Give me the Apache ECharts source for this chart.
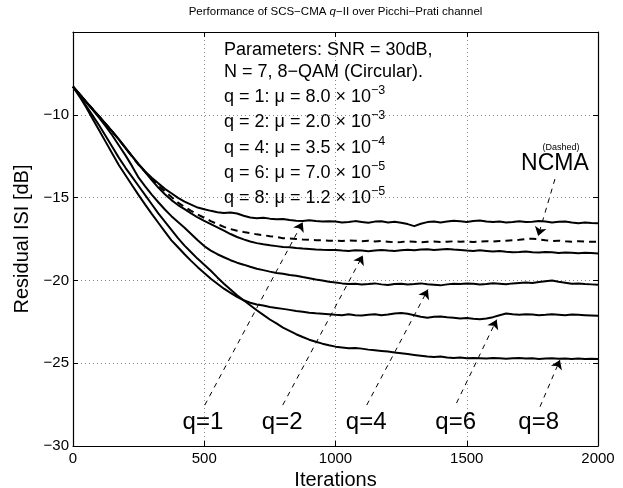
<!DOCTYPE html>
<html><head><meta charset="utf-8">
<script src="https://cdn.jsdelivr.net/npm/echarts@6/dist/echarts.min.js"></script>
<style>html,body{margin:0;padding:0;background:#fff}#c{width:623px;height:488px}</style>
</head><body><div id="c"></div>
<script>
const iterations = [0,25,50,75,100,125,150,175,200,225,250,275,300,325,350,375,400,425,450,475,500,525,550,575,600,625,650,675,700,725,750,775,800,825,850,875,900,925,950,975,1000,1025,1050,1075,1100,1125,1150,1175,1200,1225,1250,1275,1300,1325,1350,1375,1400,1425,1450,1475,1500,1525,1550,1575,1600,1625,1650,1675,1700,1725,1750,1775,1800,1825,1850,1875,1900,1925,1950,1975,2000];
const q1 = [-8.3,-8.74,-9.2,-9.66,-10.1,-10.56,-11.0,-11.48,-11.98,-12.5,-12.98,
-13.42,-13.8,-14.14,-14.47,-14.74,-15.02,-15.24,-15.42,-15.6,-15.7,-15.8,-15.88,-15.93,-15.9,-15.96,-16.1,-16.2,-16.24,-16.21,-16.27,-16.31,-16.29,-16.35,-16.4,-16.42,-16.37,-16.42,-16.45,-16.43,
-16.45,-16.5,-16.48,-16.42,-16.47,-16.52,-16.45,-16.43,-16.5,-16.46,-16.52,-16.6,-16.72,-16.58,-16.48,-16.44,-16.5,-16.45,-16.4,-16.43,-16.47,-16.42,-16.38,-16.44,-16.48,-16.45,-16.5,-16.47,-16.43,-16.48,-16.46,-16.42,-16.45,-16.5,-16.46,-16.44,-16.5,-16.55,-16.5,-16.53,-16.55];
const ncma = [-8.3,-8.76,-9.21,-9.65,-10.12,-10.55,-11.02,-11.5,-12.0,-12.52,-13.02,
-13.45,-13.88,-14.27,-14.62,-14.97,-15.3,-15.56,-15.8,-16.02,-16.22,-16.42,-16.6,-16.77,-16.9,-17.0,-17.08,-17.14,-17.22,-17.27,-17.33,-17.38,-17.45,-17.47,-17.5,-17.53,-17.55,-17.57,-17.58,-17.6,
-17.6,-17.62,-17.58,-17.6,-17.63,-17.6,-17.65,-17.62,-17.66,-17.7,-17.68,-17.64,-17.66,-17.7,-17.67,-17.65,-17.68,-17.66,-17.64,-17.67,-17.65,-17.68,-17.66,-17.63,-17.66,-17.62,-17.6,-17.58,-17.55,-17.5,-17.48,-17.52,-17.58,-17.62,-17.6,-17.64,-17.66,-17.63,-17.65,-17.67,-17.66];
const q2 = [-8.3,-8.75,-9.22,-9.67,-10.1,-10.57,-11.03,-11.5,-12.02,-12.5,-13.0,
-13.46,-13.95,-14.4,-14.8,-15.15,-15.45,-15.7,-15.95,-16.2,-16.4,-16.6,-16.8,-17.0,-17.2,-17.38,-17.52,-17.65,-17.75,-17.82,-17.88,-17.93,-17.98,-18.0,-18.05,-18.08,-18.1,-18.13,-18.15,-18.16,
-18.17,-18.2,-18.22,-18.18,-18.2,-18.24,-18.2,-18.17,-18.2,-18.22,-18.18,-18.15,-18.18,-18.14,-18.12,-18.16,-18.13,-18.1,-18.14,-18.17,-18.2,-18.22,-18.18,-18.22,-18.26,-18.23,-18.27,-18.3,-18.28,-18.25,-18.3,-18.32,-18.28,-18.3,-18.34,-18.31,-18.33,-18.36,-18.33,-18.35,-18.37];
const q4 = [-8.3,-8.76,-9.24,-9.7,-10.18,-10.7,-11.25,-11.85,-12.45,-13.1,-13.8,
-14.32,-14.82,-15.28,-15.72,-16.12,-16.48,-16.82,-17.2,-17.58,-17.93,-18.2,-18.42,-18.6,-18.78,-18.93,-19.05,-19.18,-19.3,-19.38,-19.47,-19.55,-19.6,-19.67,-19.72,-19.8,-19.87,-19.95,-20.0,-20.08,
-20.12,-20.18,-20.22,-20.2,-20.25,-20.22,-20.18,-20.24,-20.28,-20.22,-20.2,-20.25,-20.22,-20.18,-20.23,-20.26,-20.3,-20.24,-20.2,-20.22,-20.18,-20.2,-20.25,-20.22,-20.17,-20.2,-20.23,-20.18,-20.15,-20.12,-20.16,-20.1,-20.05,-20.0,-20.08,-20.14,-20.2,-20.18,-20.22,-20.24,-20.27];
const q6 = [-8.3,-8.9,-9.55,-10.25,-10.95,-11.65,-12.35,-13.05,-13.65,-14.25,-14.85,
-15.42,-15.98,-16.52,-17.05,-17.58,-18.0,-18.42,-18.82,-19.2,-19.55,-19.9,-20.2,-20.5,-20.75,-21.0,-21.2,-21.35,-21.45,-21.52,-21.6,-21.66,-21.72,-21.78,-21.85,-21.9,-21.95,-21.99,-22.02,-22.05,
-22.08,-22.1,-22.05,-22.1,-22.12,-22.08,-22.05,-22.1,-22.06,-22.0,-21.97,-22.02,-22.1,-22.2,-22.25,-22.2,-22.18,-22.22,-22.25,-22.3,-22.27,-22.32,-22.35,-22.3,-22.22,-22.1,-22.0,-22.05,-22.08,-22.04,-22.06,-22.1,-22.08,-22.05,-22.07,-22.1,-22.06,-22.08,-22.1,-22.12,-22.14];
const q8 = [-8.3,-8.85,-9.45,-10.05,-10.65,-11.3,-11.95,-12.6,-13.2,-13.75,-14.3,
-14.85,-15.4,-15.95,-16.45,-16.95,-17.45,-17.9,-18.3,-18.7,-19.05,-19.42,-19.82,-20.2,-20.55,-20.9,-21.2,-21.5,-21.8,-22.08,-22.36,-22.6,-22.85,-23.05,-23.25,-23.42,-23.58,-23.7,-23.82,-23.92,
-24.0,-24.05,-24.1,-24.08,-24.12,-24.18,-24.22,-24.26,-24.3,-24.36,-24.4,-24.45,-24.5,-24.55,-24.6,-24.62,-24.6,-24.65,-24.68,-24.66,-24.7,-24.68,-24.7,-24.72,-24.68,-24.7,-24.73,-24.7,-24.68,-24.72,-24.7,-24.74,-24.72,-24.7,-24.73,-24.71,-24.74,-24.72,-24.75,-24.73,-24.74];

const xRange = {min: 0, max: 2000, interval: 500};
const yRange = {min: -30, max: -5, interval: 5};

// annotation arrows in data units: [from, to]
const arrowFrom = [[502,-27.53],[799,-27.53],[1119,-27.53],[1461,-27.41],[1779,-27.63],[1836,-13.88]];
const arrowTo   = [[875,-16.49],[1104,-18.49],[1352,-20.55],[1614,-22.37],[1855,-24.80],[1772,-17.32]];
const curveLabels = ['q=1','q=2','q=4','q=6','q=8'];
const curveLabelPos = [[495,-28.6],[797,-28.6],[1117,-28.6],[1458,-28.6],[1774,-28.6]];
const ncmaLabel = {text:'NCMA', pos:[1836,-12.97]};
const dashedLabel = {text:'(Dashed)', pos:[1859,-12.0]};

const paramLines = [
  'Parameters: SNR = 30dB,',
  'N = 7, 8\u2212QAM (Circular).',
  'q = 1: \u03bc = 8.0 \u00d7 10{s|\u22123}',
  'q = 2: \u03bc = 2.0 \u00d7 10{s|\u22123}',
  'q = 4: \u03bc = 3.5 \u00d7 10{s|\u22124}',
  'q = 6: \u03bc = 7.0 \u00d7 10{s|\u22125}',
  'q = 8: \u03bc = 1.2 \u00d7 10{s|\u22125}'
];
const paramY = [50,72,97,122,148,173,198];

const F = '"Liberation Sans", Arial, Helvetica, sans-serif';
const chart = echarts.init(document.getElementById('c'), null, {renderer:'canvas'});
const toPts = arr => iterations.map((x,i)=>[x, arr[i]]);
const minus = v => String(v).replace('-', '\u2212');

const lineSeries = (name, arr, dashed) => ({
  name, type:'line', data: toPts(arr), symbol:'none', showSymbol:false,
  lineStyle:{color:'#000', width:2, type: dashed ? [7,5] : 'solid'},
  silent:true, z: 3
});

const s1 = lineSeries('q=1', q1, false);
s1.markLine = {
  silent:true, symbol:['none','arrow'], symbolSize:9, animation:false,
  label:{show:false},
  lineStyle:{color:'#000', width:1, type:[5,5]},
  emphasis:{disabled:true},
  data: arrowFrom.map((f,i)=>[{coord:f},{coord:arrowTo[i]}])
};

const axisCommon = {
  axisLine:{show:true, onZero:false, lineStyle:{color:'#000', width:1.2}},
  axisTick:{show:true, inside:true, length:5, lineStyle:{color:'#000'}}
};

const option = {
  animation:false,
  backgroundColor:'#fff',
  grid:{left:73, right:25, top:32, bottom:42, containLabel:false, outerBoundsMode:'none'},
  xAxis:[Object.assign({
    type:'value', min:xRange.min, max:xRange.max, interval:xRange.interval, position:'bottom',
    axisLabel:{fontSize:15, color:'#000', margin:5, fontFamily:F, showMinLabel:true, showMaxLabel:true,
      formatter: v => String(v)},
    splitLine:{show:true, lineStyle:{color:'#8a8a8a', type:[1,3], width:1}},
    name:'Iterations', nameLocation:'middle', nameGap:17,
    nameTextStyle:{fontSize:20, color:'#000', fontFamily:F}
  }, axisCommon), Object.assign({
    type:'value', min:xRange.min, max:xRange.max, interval:xRange.interval, position:'top',
    axisLabel:{show:false}, splitLine:{show:false}
  }, axisCommon)],
  yAxis:[Object.assign({
    type:'value', min:yRange.min, max:yRange.max, interval:yRange.interval, position:'left',
    axisLabel:{fontSize:15, color:'#000', margin:4, fontFamily:F, showMinLabel:true, showMaxLabel:true,
      formatter: v => v === yRange.max ? '' : minus(v)},
    splitLine:{show:true, lineStyle:{color:'#8a8a8a', type:[1,3], width:1}},
    name:'Residual ISI [dB]', nameLocation:'middle', nameGap:34,
    nameTextStyle:{fontSize:20, color:'#000', fontFamily:F}
  }, axisCommon), Object.assign({
    type:'value', min:yRange.min, max:yRange.max, interval:yRange.interval, position:'right',
    axisLabel:{show:false}, splitLine:{show:false}
  }, axisCommon)],
  series:[
    s1,
    lineSeries('NCMA', ncma, true),
    lineSeries('q=2', q2, false),
    lineSeries('q=4', q4, false),
    lineSeries('q=6', q6, false),
    lineSeries('q=8', q8, false)
  ]
};
chart.setOption(option);

// annotation texts placed through the chart's own coordinate conversion
const px = p => chart.convertToPixel({xAxisIndex:0, yAxisIndex:0}, p);
const txt = (text, p, size) => {
  const c = px(p);
  return {type:'text', x:c[0], y:c[1], silent:true, z:10, style:{
    text, align:'center', verticalAlign:'middle', fill:'#000', fontSize:size, fontFamily:F}};
};
const graphics = [
  {type:'text', x:335.5, y:12, silent:true, style:{
    text:'{a|Performance of SCS\u2212CMA }{i|q}{a|\u2212II over Picchi\u2212Prati channel}',
    align:'center', verticalAlign:'middle', fill:'#000', fontSize:11.5, fontFamily:F,
    rich:{a:{fontSize:11.5, fontFamily:F, fill:'#000'}, i:{fontSize:11.5, fontFamily:F, fontStyle:'italic', fill:'#000'}}
  }}
].concat(paramLines.map((t,i)=>({
  type:'text', x:224, y:paramY[i], silent:true, z:10, style:{
    text:t, align:'left', verticalAlign:'middle', fill:'#000', fontSize:18, fontFamily:F, lineHeight:26,
    rich:{s:{fontSize:12.5, lineHeight:12, verticalAlign:'top', fontFamily:F, fill:'#000'}}
  }
}))).concat(curveLabels.map((t,i)=>txt(t, curveLabelPos[i], 24)))
  .concat([txt(ncmaLabel.text, ncmaLabel.pos, 23), txt(dashedLabel.text, dashedLabel.pos, 9)]);
chart.setOption({graphic: graphics});
</script></body></html>
